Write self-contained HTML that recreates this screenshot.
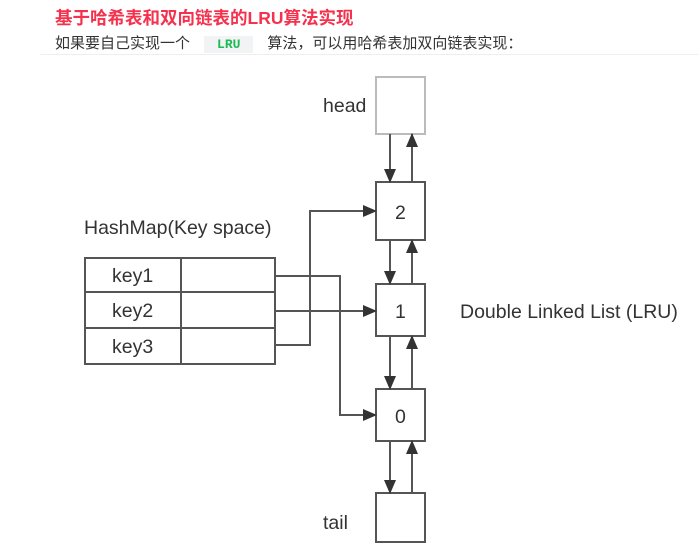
<!DOCTYPE html>
<html><head><meta charset="utf-8"><style>
body{margin:0;width:698px;height:558px;background:#fff;position:relative;overflow:hidden;font-family:"Liberation Sans","Noto Sans CJK SC",sans-serif}
.t{position:absolute;left:55px;top:5px;font-size:17.5px;font-weight:bold;color:#f5314d;white-space:nowrap}
.s{position:absolute;left:55px;top:32px;font-size:15px;color:#333;white-space:nowrap}
.c{display:inline-block;background:#f2f3f5;color:#1db954;font-family:"Liberation Mono",monospace;font-weight:bold;font-size:13px;padding:1px 13px;margin:0 14px}
</style></head><body>
<div class="t">基于哈希表和双向链表的LRU算法实现</div>
<div class="s">如果要自己实现一个<span class="c">LRU</span>算法，可以用哈希表加双向链表实现：</div>
<div style="position:absolute;left:40px;top:54px;width:658px;height:1px;background:#eee"></div>
<svg width="698" height="558" style="position:absolute;left:0;top:0" font-family="Liberation Sans, sans-serif" fill="none">
<defs><marker id="b" markerWidth="14" markerHeight="12" refX="13" refY="6" orient="auto" markerUnits="userSpaceOnUse"><path d="M0,0L14,6L0,12z" fill="#333"/></marker></defs>
<g stroke="#555" stroke-width="2">
<rect x="376" y="77" width="49" height="57" stroke="#bbb"/>
<rect x="376" y="182" width="49" height="58"/>
<rect x="376" y="284" width="49" height="52"/>
<rect x="376" y="389" width="49" height="52"/>
<rect x="376" y="493" width="49" height="49"/>
<rect x="85" y="258" width="190" height="106"/>
<line x1="85" y1="292" x2="275" y2="292"/><line x1="85" y1="328" x2="275" y2="328"/>
<line x1="181" y1="258" x2="181" y2="364"/>
</g>
<g stroke="#555" stroke-width="2" marker-end="url(#b)">
<line x1="390" y1="134" x2="390" y2="182"/><line x1="412" y1="182" x2="412" y2="134"/>
<line x1="390" y1="240" x2="390" y2="284"/><line x1="412" y1="284" x2="412" y2="240"/>
<line x1="390" y1="336" x2="390" y2="389"/><line x1="412" y1="389" x2="412" y2="336"/>
<line x1="390" y1="441" x2="390" y2="493"/><line x1="412" y1="493" x2="412" y2="441"/>
<polyline points="275,276 340,276 340,415 376,415"/>
<polyline points="275,311 376,311"/>
<polyline points="275,345 310,345 310,211 376,211"/>
</g>
<g fill="#333" font-size="19.5">
<text x="323" y="112">head</text><text x="323" y="529">tail</text>
<text x="395" y="219">2</text><text x="395" y="318">1</text><text x="395" y="423">0</text>
<text x="84" y="234">HashMap(Key space)</text>
<text x="112" y="282">key1</text><text x="112" y="317">key2</text><text x="112" y="353">key3</text>
<text x="460" y="318">Double Linked List (LRU)</text>
</g>
</svg>
</body></html>
